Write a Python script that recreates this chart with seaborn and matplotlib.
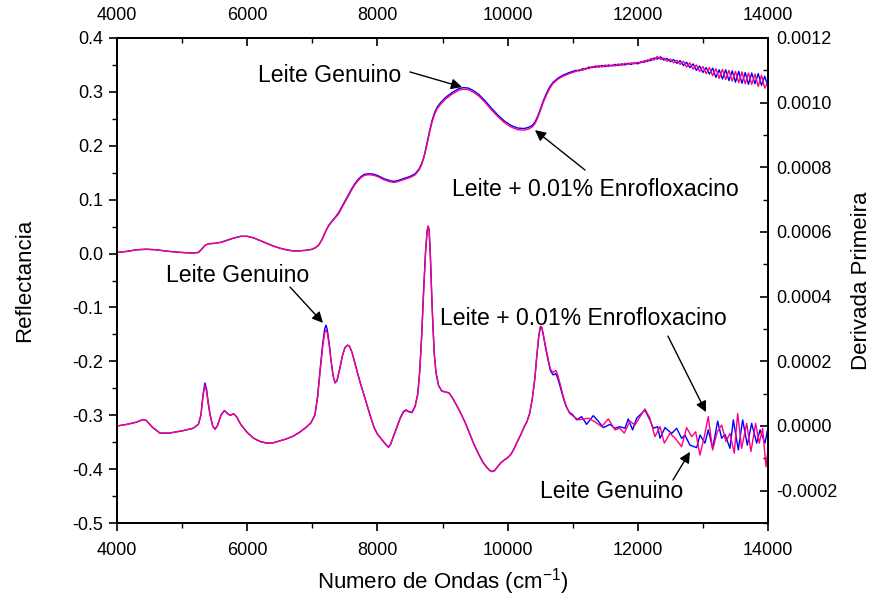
import numpy as np
import pandas as pd
import matplotlib
matplotlib.use("Agg")
import matplotlib.pyplot as plt
import seaborn as sns
from matplotlib.ticker import MultipleLocator, FixedLocator, FormatStrFormatter

# ---------------- DATA ----------------
# Reflectance spectra (left axis)
wn_refl_smooth = [4000, 4150, 4300, 4450, 4600, 4800, 5000, 5150, 5250, 5300, 5350, 5400, 5500,
                  5600, 5700, 5800, 5900, 6000, 6100, 6200, 6300, 6400, 6500, 6600, 6700, 6800,
                  6900, 7000, 7050, 7100, 7150, 7200, 7250, 7300, 7350, 7400, 7450, 7500, 7550,
                  7600, 7650, 7700, 7750, 7800, 7850, 7900, 7950, 8000, 8100, 8200, 8250, 8300,
                  8400, 8500, 8580, 8640, 8680, 8720, 8760, 8800, 8840, 8880, 8920, 8970, 9050,
                  9150, 9250, 9320, 9400, 9480, 9560, 9650, 9750, 9850, 9950, 10050, 10150,
                  10250, 10320, 10380, 10420, 10460, 10500, 10550, 10600, 10650, 10700, 10780,
                  10850, 10950]
refl_gen_smooth = [0.002, 0.004, 0.007, 0.008, 0.007, 0.004, 0.002, 0.001, 0.002, 0.008, 0.015,
                   0.018, 0.019, 0.021, 0.025, 0.029, 0.032, 0.032, 0.029, 0.024, 0.019, 0.014,
                   0.010, 0.007, 0.005, 0.005, 0.006, 0.008, 0.011, 0.016, 0.026, 0.040, 0.052,
                   0.060, 0.067, 0.075, 0.086, 0.097, 0.108, 0.119, 0.129, 0.137, 0.143, 0.147,
                   0.148, 0.148, 0.147, 0.145, 0.139, 0.135, 0.134, 0.135, 0.139, 0.143, 0.148,
                   0.157, 0.167, 0.182, 0.204, 0.227, 0.247, 0.262, 0.272, 0.280, 0.290, 0.299,
                   0.306, 0.308, 0.307, 0.302, 0.295, 0.284, 0.270, 0.257, 0.246, 0.238, 0.233,
                   0.232, 0.234, 0.238, 0.244, 0.254, 0.267, 0.284, 0.298, 0.310, 0.318, 0.326,
                   0.331, 0.336]
refl_enr_smooth = [0.002, 0.004, 0.007, 0.008, 0.007, 0.004, 0.002, 0.001, 0.002, 0.008, 0.015,
                   0.018, 0.019, 0.021, 0.025, 0.029, 0.032, 0.032, 0.029, 0.024, 0.019, 0.014,
                   0.010, 0.007, 0.005, 0.005, 0.006, 0.008, 0.011, 0.016, 0.026, 0.040, 0.051,
                   0.059, 0.066, 0.073, 0.084, 0.095, 0.106, 0.117, 0.127, 0.135, 0.141, 0.145,
                   0.146, 0.146, 0.145, 0.143, 0.137, 0.133, 0.132, 0.133, 0.137, 0.141, 0.146,
                   0.155, 0.165, 0.180, 0.201, 0.224, 0.244, 0.259, 0.269, 0.277, 0.287, 0.296,
                   0.303, 0.305, 0.304, 0.299, 0.292, 0.281, 0.267, 0.254, 0.243, 0.235, 0.230,
                   0.229, 0.231, 0.235, 0.241, 0.251, 0.264, 0.281, 0.295, 0.307, 0.316, 0.324,
                   0.329, 0.334]
wn_refl_noisy = [11000, 11050, 11100, 11150, 11200, 11250, 11300, 11350, 11400, 11450, 11500,
                 11550, 11600, 11650, 11700, 11750, 11800, 11850, 11900, 11950, 12000, 12050,
                 12100, 12150, 12200, 12250, 12300, 12350, 12400, 12450, 12500, 12550, 12600,
                 12650, 12700, 12750, 12800, 12850, 12900, 12950, 13000, 13050, 13100, 13150,
                 13200, 13250, 13300, 13350, 13400, 13450, 13500, 13550, 13600, 13650, 13700,
                 13750, 13800, 13850, 13900, 13950, 14000]
refl_gen_noisy = [0.338, 0.340, 0.339, 0.343, 0.342, 0.346, 0.345, 0.348, 0.346, 0.349, 0.347,
                  0.350, 0.348, 0.351, 0.349, 0.352, 0.350, 0.353, 0.351, 0.354, 0.352, 0.356,
                  0.355, 0.359, 0.358, 0.363, 0.361, 0.365, 0.359, 0.362, 0.356, 0.360, 0.353,
                  0.358, 0.349, 0.355, 0.345, 0.352, 0.340, 0.348, 0.336, 0.345, 0.333, 0.344,
                  0.327, 0.341, 0.324, 0.341, 0.321, 0.339, 0.318, 0.338, 0.316, 0.336, 0.314,
                  0.335, 0.315, 0.334, 0.312, 0.329, 0.310]
refl_enr_noisy = [0.336, 0.338, 0.341, 0.340, 0.344, 0.343, 0.347, 0.345, 0.349, 0.346, 0.350,
                  0.347, 0.350, 0.348, 0.352, 0.349, 0.353, 0.351, 0.354, 0.352, 0.355, 0.354,
                  0.358, 0.356, 0.362, 0.359, 0.366, 0.360, 0.363, 0.357, 0.361, 0.354, 0.359,
                  0.351, 0.357, 0.346, 0.354, 0.342, 0.350, 0.338, 0.347, 0.334, 0.345, 0.330,
                  0.343, 0.325, 0.342, 0.323, 0.340, 0.320, 0.338, 0.317, 0.337, 0.315, 0.335,
                  0.314, 0.333, 0.310, 0.331, 0.307, 0.318]

# First derivative spectra (right axis), values in units of 1e-4
wn_der_smooth = [4000, 4150, 4300, 4400, 4450, 4550, 4660, 4800, 5000, 5170, 5250, 5290, 5320,
                 5350, 5375, 5400, 5430, 5470, 5505, 5540, 5600, 5650, 5700, 5740, 5790, 5840,
                 5900, 6000, 6100, 6200, 6300, 6400, 6500, 6600, 6700, 6800, 6900, 6980, 7040,
                 7080, 7120, 7160, 7190, 7210, 7230, 7260, 7290, 7320, 7350, 7380, 7420, 7460,
                 7500, 7540, 7570, 7610, 7660, 7720, 7780, 7840, 7900, 7950, 8000, 8060, 8120,
                 8170, 8200, 8240, 8300, 8350, 8400, 8440, 8480, 8530, 8580, 8620, 8650, 8680,
                 8710, 8740, 8765, 8780, 8795, 8815, 8835, 8855, 8875, 8900, 8940, 8990, 9050,
                 9100, 9150, 9200, 9270, 9350, 9420, 9480, 9550, 9620, 9680, 9730, 9760, 9800,
                 9850, 9900, 9950, 10000, 10050, 10100, 10150, 10200, 10250, 10300, 10340,
                 10380, 10420, 10450, 10480, 10505, 10525, 10550, 10580, 10620, 10660, 10700,
                 10740, 10770, 10810, 10850, 10900, 10950]
der_gen_smooth = [0.00, 0.05, 0.12, 0.20, 0.17, -0.05, -0.22, -0.22, -0.15, -0.07, 0.05, 0.35,
                  0.95, 1.33, 1.15, 0.75, 0.35, 0.00, -0.10, 0.00, 0.35, 0.48, 0.38, 0.33, 0.38,
                  0.28, 0.05, -0.20, -0.38, -0.48, -0.53, -0.52, -0.46, -0.40, -0.32, -0.20,
                  -0.05, 0.10, 0.35, 0.90, 1.75, 2.55, 3.00, 3.12, 2.98, 2.55, 2.00, 1.55, 1.33,
                  1.40, 1.75, 2.15, 2.42, 2.50, 2.47, 2.28, 1.90, 1.45, 1.05, 0.65, 0.25, -0.05,
                  -0.25, -0.40, -0.55, -0.66, -0.58, -0.35, -0.02, 0.25, 0.45, 0.50, 0.45, 0.42,
                  0.62, 1.00, 1.70, 2.80, 4.20, 5.40, 6.05, 6.18, 6.05, 5.20, 4.00, 3.00, 2.20,
                  1.65, 1.25, 1.08, 1.05, 1.02, 0.88, 0.70, 0.44, 0.10, -0.25, -0.55, -0.85,
                  -1.12, -1.28, -1.38, -1.41, -1.38, -1.25, -1.13, -1.05, -0.98, -0.88, -0.70,
                  -0.48, -0.28, -0.05, 0.15, 0.40, 0.85, 1.50, 2.20, 2.80, 3.08, 3.05, 2.80,
                  2.45, 2.05, 1.70, 1.58, 1.62, 1.48, 1.20, 0.90, 0.60, 0.42]
der_enr_smooth = [0.00, 0.05, 0.12, 0.20, 0.17, -0.05, -0.22, -0.22, -0.15, -0.07, 0.05, 0.33,
                  0.90, 1.25, 1.08, 0.70, 0.33, 0.00, -0.10, 0.00, 0.34, 0.47, 0.38, 0.33, 0.38,
                  0.28, 0.05, -0.20, -0.38, -0.48, -0.53, -0.52, -0.46, -0.40, -0.32, -0.20,
                  -0.05, 0.10, 0.33, 0.85, 1.68, 2.45, 2.88, 2.97, 2.88, 2.50, 1.98, 1.55, 1.35,
                  1.42, 1.75, 2.15, 2.42, 2.50, 2.47, 2.28, 1.90, 1.45, 1.05, 0.65, 0.25, -0.05,
                  -0.25, -0.40, -0.55, -0.64, -0.58, -0.37, -0.05, 0.23, 0.43, 0.48, 0.44, 0.41,
                  0.60, 0.98, 1.66, 2.75, 4.15, 5.38, 6.05, 6.18, 6.05, 5.20, 4.00, 3.00, 2.20,
                  1.65, 1.25, 1.08, 1.05, 1.02, 0.88, 0.70, 0.44, 0.10, -0.25, -0.55, -0.85,
                  -1.12, -1.28, -1.38, -1.41, -1.38, -1.25, -1.13, -1.05, -0.98, -0.88, -0.70,
                  -0.48, -0.28, -0.05, 0.15, 0.40, 0.85, 1.50, 2.20, 2.80, 3.08, 3.05, 2.82,
                  2.50, 2.10, 1.75, 1.65, 1.72, 1.58, 1.28, 0.95, 0.62, 0.40]
wn_der_gen_tail = [11000, 11061, 11137, 11214, 11315, 11393, 11470, 11572, 11649, 11726, 11803,
                   11853, 11920, 11982, 12109, 12186, 12238, 12305, 12341, 12418, 12520, 12597,
                   12673, 12724, 12801, 12904, 12955, 13032, 13082, 13150, 13227, 13288, 13339,
                   13416, 13467, 13544, 13611, 13682, 13749, 13826, 13877, 13954, 14000]
der_gen_tail = [0.35, 0.19, 0.29, 0.05, 0.32, 0.15, -0.05, 0.05, -0.07, -0.02, -0.07,
                0.22, -0.12, 0.24, 0.49, 0.19, -0.07, -0.02, -0.38, -0.05, -0.23, -0.07,
                -0.38, -0.28, -0.59, -0.67, -0.28, -0.53, -0.12, -0.69, 0.15, -0.38, -0.26,
                -0.69, 0.19, -0.74, 0.19, -0.59, 0.08, -0.53, -0.12, -0.53, -0.03]
wn_der_enr_tail = [10984, 11086, 11240, 11342, 11445, 11547, 11649, 11726, 11792, 11880, 11956,
                   12109, 12186, 12263, 12341, 12407, 12494, 12571, 12673, 12750, 12827, 12889,
                   12955, 13021, 13082, 13150, 13221, 13288, 13354, 13416, 13482, 13534, 13595,
                   13672, 13738, 13810, 13866, 13918, 13969, 14000]
der_enr_tail = [0.34, 0.19, 0.24, 0.13, -0.02, 0.22, -0.12, -0.07, -0.22, 0.15, 0.03,
                0.53, 0.24, -0.33, -0.02, -0.53, -0.23, -0.37, -0.64, -0.05, -0.33, -0.18,
                -0.90, -0.33, 0.29, -0.74, -0.18, 0.03, -0.48, -0.23, -0.84, 0.39, -0.69,
                0.08, -0.79, 0.08, -0.53, -0.07, -1.26, -0.74]

# ---------------- STYLE ----------------
sns.set_theme(style="ticks")
plt.rcParams['font.family'] = ['Liberation Sans', 'DejaVu Sans']
plt.rcParams['mathtext.default'] = 'regular'
plt.rcParams.update({'text.color': 'black', 'axes.labelcolor': 'black',
                     'xtick.color': 'black', 'ytick.color': 'black',
                     'axes.edgecolor': 'black', 'axes.linewidth': 1.3})

BLUE = '#0000FF'
MAG = '#FF0080'

fig = plt.figure(figsize=(8.75, 6.06), dpi=100)
ax = fig.add_axes([117 / 875, 1 - 523 / 606, (768 - 117) / 875, (523 - 38) / 606])
ax2 = ax.twinx()

refl_gen = pd.DataFrame({'wn': wn_refl_smooth + wn_refl_noisy, 'r': refl_gen_smooth + refl_gen_noisy})
refl_enr = pd.DataFrame({'wn': wn_refl_smooth + wn_refl_noisy, 'r': refl_enr_smooth + refl_enr_noisy})
der_g = pd.DataFrame({'wn': wn_der_smooth + wn_der_gen_tail,
                      'd': np.array(der_gen_smooth + der_gen_tail) * 1e-4})
der_e = pd.DataFrame({'wn': wn_der_smooth + wn_der_enr_tail,
                      'd': np.array(der_enr_smooth + der_enr_tail) * 1e-4})

sns.lineplot(data=refl_gen, x='wn', y='r', color=BLUE, lw=1.0, estimator=None, sort=False, ax=ax)
sns.lineplot(data=refl_enr, x='wn', y='r', color=MAG, lw=1.0, estimator=None, sort=False, ax=ax)
sns.lineplot(data=der_g, x='wn', y='d', color=BLUE, lw=1.0, estimator=None, sort=False, ax=ax2)
sns.lineplot(data=der_e, x='wn', y='d', color=MAG, lw=1.0, estimator=None, sort=False, ax=ax2)

ax.set_xlim(4000, 14000)
ax.set_ylim(-0.5, 0.4)
ax2.set_ylim(-0.0003, 0.0012)

xt_major = [4000, 6000, 8000, 10000, 12000, 14000]
xt_minor = [5000, 7000, 9000, 11000, 13000]

# x axis bottom
ax.xaxis.set_major_locator(FixedLocator(xt_major))
ax.xaxis.set_minor_locator(FixedLocator(xt_minor))
ax.tick_params(axis='x', which='major', direction='out', length=6, width=1.2, labelsize=13, pad=8,
               top=False, bottom=True)
ax.tick_params(axis='x', which='minor', direction='out', length=3.5, width=1.0, top=False, bottom=True)
# left y
ax.yaxis.set_major_locator(MultipleLocator(0.1))
ax.yaxis.set_minor_locator(MultipleLocator(0.05))
ax.yaxis.set_major_formatter(FormatStrFormatter('%.1f'))
ax.tick_params(axis='y', which='major', direction='out', length=6, width=1.2, labelsize=13, pad=4)
ax.tick_params(axis='y', which='minor', direction='out', length=3.5, width=1.0)
# right y
ax2.yaxis.set_major_locator(MultipleLocator(0.0002))
ax2.yaxis.set_minor_locator(MultipleLocator(0.0001))
ax2.yaxis.set_major_formatter(FormatStrFormatter('%.4f'))
ax2.tick_params(axis='y', which='major', direction='in', length=6, width=1.2, labelsize=13, pad=6)
ax2.tick_params(axis='y', which='minor', direction='in', length=3.5, width=1.0)
# top x
sec = ax.secondary_xaxis('top')
sec.xaxis.set_major_locator(FixedLocator(xt_major))
sec.xaxis.set_minor_locator(FixedLocator(xt_minor))
sec.tick_params(axis='x', which='major', direction='in', length=6, width=1.2, labelsize=13, pad=10)
sec.tick_params(axis='x', which='minor', direction='in', length=3.5, width=1.0)

for a in (ax, ax2):
    for s in a.spines.values():
        s.set_color('black')
        s.set_linewidth(1.3)
sec.spines['top'].set_linewidth(1.3)

ax.set_xlabel(r'Numero de Ondas (cm$^{-1}$)', fontsize=16, labelpad=5)
ax.set_ylabel('Reflectancia', fontsize=16, labelpad=27)
ax2.set_ylabel('Derivada Primeira', fontsize=16, labelpad=10)

# ---------------- ANNOTATIONS ----------------
aprops = dict(arrowstyle='-|>', color='black', lw=1.0, mutation_scale=16, shrinkA=0, shrinkB=0)
fs = 16.6
ax.text(7272, 0.331, 'Leite Genuino', fontsize=fs, ha='center', va='center')
ax.annotate('', xy=(9300, 0.309), xytext=(8500, 0.337), arrowprops=aprops)
ax.text(11342, 0.118, 'Leite + 0.01% Enrofloxacino', fontsize=fs, ha='center', va='center')
ax.annotate('', xy=(10420, 0.229), xytext=(11189, 0.155), arrowprops=aprops)

ax2.text(5859, 4.67e-4, 'Leite Genuino', fontsize=fs, ha='center', va='center')
ax2.annotate('', xy=(7164, 3.19e-4), xytext=(6657, 4.30e-4), arrowprops=aprops)
ax2.text(11158, 3.34e-4, 'Leite + 0.01% Enrofloxacino', fontsize=fs, ha='center', va='center')
ax2.annotate('', xy=(13047, 0.43e-4), xytext=(12463, 2.78e-4), arrowprops=aprops)
ax2.text(11603, -2.04e-4, 'Leite Genuino', fontsize=fs, ha='center', va='center')
ax2.annotate('', xy=(12801, -0.80e-4), xytext=(12540, -1.67e-4), arrowprops=aprops)

fig.savefig('out.png', dpi=100, facecolor='white')
